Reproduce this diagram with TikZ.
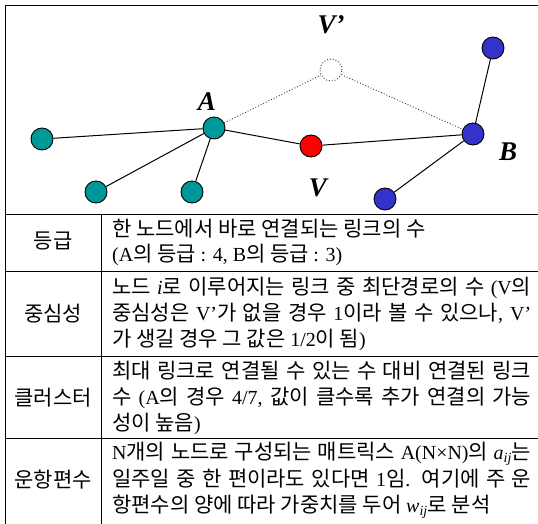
\documentclass[tikz,border=0pt]{standalone}
\usepackage{fontspec}
\setmainfont{Noto Sans CJK KR}[WordSpace=1.0]
\newfontfamily\lf{Liberation Serif}[Scale=0.95]
\newfontfamily\bigf{Liberation Serif}
\newcommand\lt[1]{{\lf #1}}
\definecolor{tealc}{RGB}{0,153,153}
\definecolor{bluec}{RGB}{51,51,204}
\definecolor{redc}{RGB}{255,0,0}
\newcommand\jline[1]{\makebox[419pt][s]{#1}}
\tikzset{
  gnode/.style={circle, draw=black, line width=0.9pt, minimum size=22pt, inner sep=0pt},
  tnode/.style={gnode, fill=tealc},
  bnode/.style={gnode, fill=bluec},
  rnode/.style={gnode, fill=redc},
  vnode/.style={gnode, draw=black!80, dotted, line width=0.9pt, fill=white},
  link/.style={line width=1pt, black},
  vlink/.style={line width=0.9pt, black!80, dotted},
  biglab/.style={font=\bigf\fontsize{27}{27}\selectfont\bfseries\itshape, inner sep=0pt},
  tl/.style={anchor=base west, inner sep=0pt, font=\fontsize{21}{24}\selectfont},
  hl/.style={anchor=base, inner sep=0pt, font=\fontsize{21}{24}\selectfont},
  rule/.style={line width=0.9pt, black},
}
\begin{document}
\begin{tikzpicture}[x=1pt,y=-1pt]
\useasboundingbox (0,0) rectangle (538,524);
% frame and table
\draw[rule] (538,5) -- (5,5) -- (5,524);
\draw[rule] (5,214) -- (538,214);
\draw[rule] (5,271) -- (538,271);
\draw[rule] (5,356) -- (538,356);
\draw[rule] (5,438) -- (538,438);
\draw[rule] (101,214) -- (101,524);
% graph nodes
\node[tnode] (A) at (214,128) {};
\node[tnode] (L) at (42,139) {};
\node[tnode] (BL) at (96,192) {};
\node[tnode] (BM) at (192,192) {};
\node[rnode] (V) at (311,146) {};
\node[vnode] (Vp) at (331,70) {};
\node[bnode] (B) at (473,134) {};
\node[bnode] (TR) at (493,48) {};
\node[bnode] (BB) at (385,199) {};
% links
\draw[link] (A) -- (L);
\draw[link] (A) -- (BL);
\draw[link] (A) -- (BM);
\draw[link] (A) -- (V);
\draw[link] (V) -- (B);
\draw[link] (B) -- (TR);
\draw[link] (B) -- (BB);
\draw[vlink] (A) -- (Vp);
\draw[vlink] (Vp) -- (B);
% labels
\node[biglab] (labVp) at (331,25) {V’};
\node[biglab] (labA) at (207,102) {A};
\node[biglab] (labV) at (318,188) {V};
\node[biglab] (labB) at (508,152) {B};
% left column
\node[hl] (h1) at (53,248) {등급};
\node[hl] (h2) at (53,321) {중심성};
\node[hl] (h3) at (53,405) {클러스터};
\node[hl] (h4) at (53,487) {운항편수};
% row 1
\node[tl] (r1a) at (112,236) {한 노드에서 바로 연결되는 링크의 수};
\node[tl] (r1b) at (112,261) {\lt{(A}의 등급 \lt{: 4, B}의 등급 \lt{: 3)}};
% row 2
\node[tl] (r2a) at (112,294) {\jline{노드 \lt{\itshape i}로 이루어지는 링크 중 최단경로의 수 \lt{(V}의}};
\node[tl] (r2b) at (112,320) {\jline{중심성은 \lt{V’}가 없을 경우 \lt{1}이라 볼 수 있으나\lt{,} \lt{V’}}};
\node[tl] (r2c) at (112,346) {가 생길 경우 그 값은 \lt{1/2}이 됨\lt{)}};
% row 3
\node[tl] (r3a) at (112,378) {\jline{최대 링크로 연결될 수 있는 수 대비 연결된 링크}};
\node[tl] (r3b) at (112,404) {\jline{수 \lt{(A}의 경우 \lt{4/7,} 값이 클수록 추가 연결의 가능}};
\node[tl] (r3c) at (112,430) {성이 높음\lt{)}};
% row 4
\node[tl] (r4a) at (112,459) {\jline{\lt{N}개의 노드로 구성되는 매트릭스 \lt{A(N×N)}의 \lt{\itshape a\textsubscript{ij}}는}};
\node[tl] (r4b) at (112,486) {\jline{일주일 중 한 편이라도 있다면 \lt{1}임\lt{.} 여기에 주 운}};
\node[tl] (r4c) at (112,512) {항편수의 양에 따라 가중치를 두어 \lt{\itshape w\textsubscript{ij}}로 분석};
\end{tikzpicture}
\end{document}
